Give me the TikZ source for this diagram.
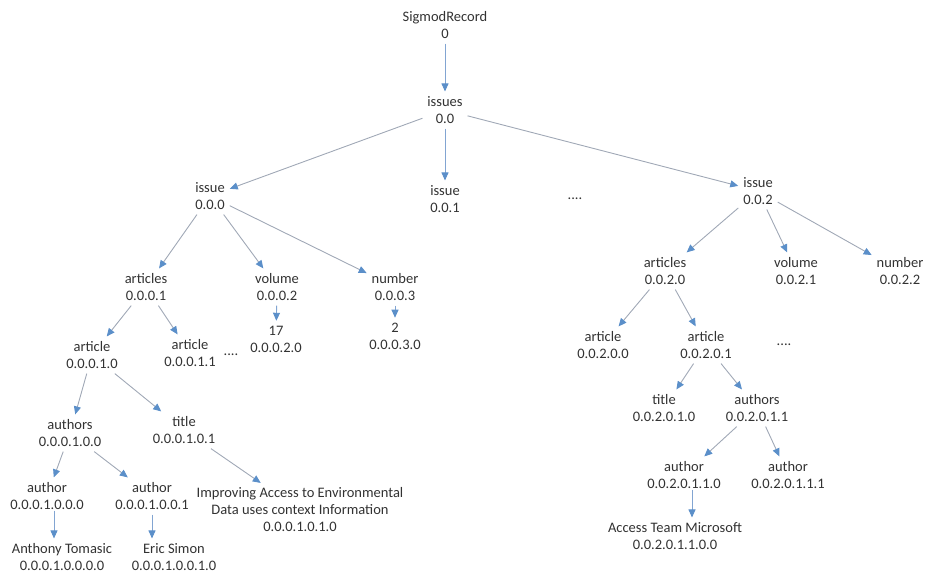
\documentclass[tikz,border=0pt]{standalone}
\usepackage{fontspec}
\setmainfont{Carlito}
\usetikzlibrary{arrows.meta}
\definecolor{txtgray}{RGB}{50,50,50}
\definecolor{linegray}{RGB}{160,168,182}
\definecolor{lineblue}{RGB}{130,165,210}
\definecolor{tipblue}{RGB}{91,143,201}
\tikzset{
  tn/.style={font=\fontsize{14.5}{17}\selectfont, text=txtgray, align=center, inner sep=1pt, outer sep=4pt},
  conn/.style={draw=linegray, line width=0.9pt, -{Triangle[length=8pt,width=7pt,color=tipblue]}},
  vconn/.style={conn, draw=lineblue}
}
\begin{document}
\begin{tikzpicture}[x=1pt,y=-1pt]
\useasboundingbox (0,0) rectangle (933,573);
% top
\node[tn] (root) at (445,25) {SigmodRecord\\0};
\node[tn] (iss) at (445,110) {issues\\0.0};
\node[tn] (i0) at (210,196) {issue\\0.0.0};
\node[tn] (i1) at (445,199) {issue\\0.0.1};
\node[tn] (d1) at (575,199) {....};
\node[tn] (i2) at (758,191) {issue\\0.0.2};
% left subtree
\node[tn] (a0) at (146,287) {articles\\0.0.0.1};
\node[tn] (v0) at (277,287) {volume\\0.0.0.2};
\node[tn] (n0) at (395,287) {number\\0.0.0.3};
\node[tn] (v0v) at (276,339) {17\\0.0.0.2.0};
\node[tn] (n0v) at (395,336) {2\\0.0.0.3.0};
\node[tn] (ar0) at (92,355) {article\\0.0.0.1.0};
\node[tn] (ar1) at (190,353) {article\\0.0.0.1.1};
\node[tn] (d2) at (231,355) {....};
\node[tn] (au0) at (70,433) {authors\\0.0.0.1.0.0};
\node[tn] (t0) at (184,430) {title\\0.0.0.1.0.1};
\node[tn] (auth0) at (47,496) {author\\0.0.0.1.0.0.0};
\node[tn] (auth1) at (152,496) {author\\0.0.0.1.0.0.1};
\node[tn] (tv) at (300,510) {Improving Access to Environmental\\Data uses context Information\\0.0.0.1.0.1.0};
\node[tn] (anth) at (62,557) {Anthony Tomasic\\0.0.0.1.0.0.0.0};
\node[tn] (eric) at (174,557) {Eric Simon\\0.0.0.1.0.0.1.0};
% right subtree
\node[tn] (a2) at (665,271) {articles\\0.0.2.0};
\node[tn] (v2) at (796,271) {volume\\0.0.2.1};
\node[tn] (n2) at (900,271) {number\\0.0.2.2};
\node[tn] (ar20) at (603,345) {article\\0.0.2.0.0};
\node[tn] (ar21) at (706,345) {article\\0.0.2.0.1};
\node[tn] (d3) at (784,345) {....};
\node[tn] (t2) at (664,408) {title\\0.0.2.0.1.0};
\node[tn] (au2) at (757,408) {authors\\0.0.2.0.1.1};
\node[tn] (auth20) at (684,475) {author\\0.0.2.0.1.1.0};
\node[tn] (auth21) at (788,475) {author\\0.0.2.0.1.1.1};
\node[tn] (acc) at (675,536) {Access Team Microsoft\\0.0.2.0.1.1.0.0};
% connectors
\draw[vconn] (root) -- (iss);
\draw[conn] (iss) -- (i0);
\draw[vconn] (iss) -- (i1);
\draw[conn] (iss) -- (i2);
\draw[conn] (i0) -- (a0);
\draw[conn] (i0) -- (v0);
\draw[conn] (i0) -- (n0);
\draw[vconn] (v0) -- (v0v);
\draw[vconn] (n0) -- (n0v);
\draw[conn] (a0) -- (ar0);
\draw[conn] (a0) -- (ar1);
\draw[conn] (ar0) -- (au0);
\draw[conn] (ar0) -- (t0);
\draw[conn] (au0) -- (auth0);
\draw[conn] (au0) -- (auth1);
\draw[conn] (t0) -- (tv);
\draw[vconn] (auth0.south) ++(7,-4) coordinate (ca) -- (ca |- anth.north);
\draw[vconn] (auth1) -- (auth1 |- eric.north);
\draw[conn] (i2) -- (a2);
\draw[conn] (i2) -- (v2);
\draw[conn] (i2) -- (n2);
\draw[conn] (a2) -- (ar20);
\draw[conn] (a2) -- (ar21);
\draw[conn] (ar21) -- (t2);
\draw[conn] (ar21) -- (au2);
\draw[conn] (au2) -- (auth20);
\draw[conn] (au2) -- (auth21);
\draw[vconn] (auth20.south) ++(8,-4) coordinate (cb) -- (cb |- acc.north);
\end{tikzpicture}
\end{document}
